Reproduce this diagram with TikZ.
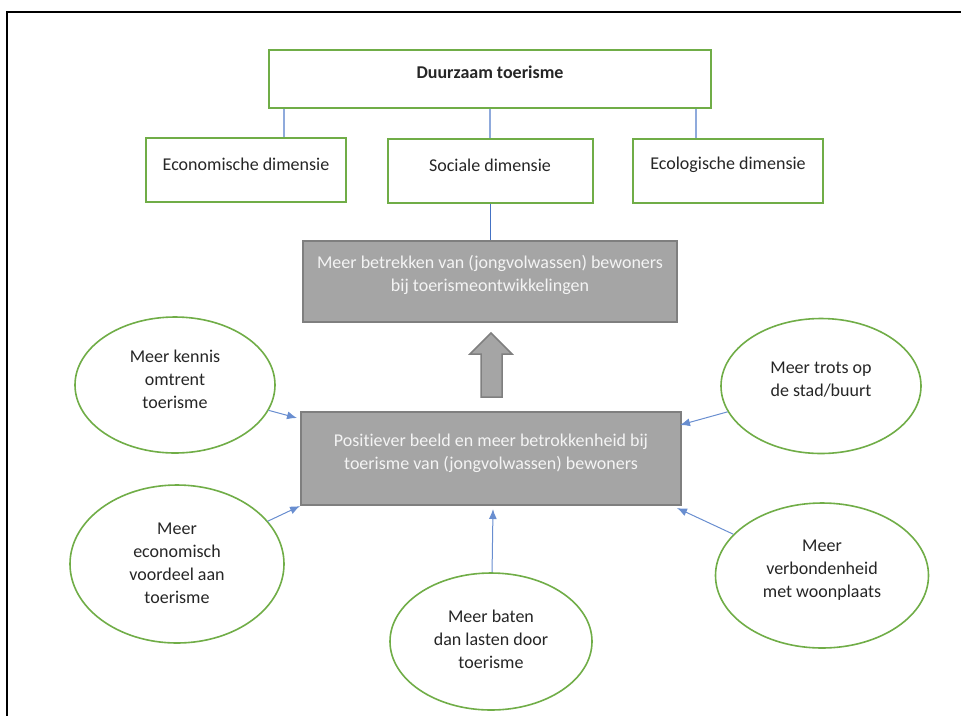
\documentclass[tikz,border=0pt]{standalone}
\usepackage{fontspec}
\setmainfont{Carlito}[Ligatures=NoCommon]
\usetikzlibrary{shapes,arrows,arrows.meta}
\usetikzlibrary{calc}
\usetikzlibrary{positioning}
\definecolor{boxgreen}{HTML}{70AD47}
\definecolor{arrowblue}{HTML}{4472C4}
\definecolor{lineblue}{HTML}{8FAADC}
\definecolor{boxgray}{HTML}{A5A5A5}
\definecolor{edgegray}{HTML}{7F7F7F}
\definecolor{softwhite}{HTML}{F4F4F4}
\tikzstyle{greenbox} = [draw=boxgreen, line width=2pt, fill=white, rectangle, inner sep=0pt]
\tikzstyle{graybox} = [draw=edgegray, line width=2pt, fill=boxgray, rectangle, inner sep=0pt]
\tikzstyle{bubble} = [draw=boxgreen, line width=1.6pt, fill=white, ellipse, inner sep=0pt]
\tikzstyle{darktext} = [text=black!85, align=center, font=\fontsize{18}{23}\selectfont]
\tikzstyle{lighttext} = [text=softwhite, align=center, font=\fontsize{18}{23}\selectfont]
\tikzstyle{dimline} = [draw=lineblue, line width=1.3pt]
\tikzstyle{cause} = [draw=arrowblue!80, line width=1pt, ->]

\begin{document}
\begin{tikzpicture}[x=1pt, y=-1pt, >={Latex[length=10pt,width=8pt]}]
  \useasboundingbox (0,0) rectangle (961,716);
  % frame
  \draw [black, line width=2.2pt] (961,12) -- (7,12) -- (7,716);
  % top level
  \node [greenbox, minimum width=442, minimum height=58,
         label={[darktext, yshift=7pt, font=\fontsize{18}{23}\selectfont\bfseries]center:Duurzaam toerisme}]
         (top) at (490,79) {};
  \node [greenbox, minimum width=200, minimum height=64,
         label={[darktext, yshift=6pt]center:Economische dimensie}] (eco) at (246,170) {};
  \node [greenbox, minimum width=205, minimum height=64,
         label={[darktext, yshift=6pt]center:Sociale dimensie}] (soc) at (490,171) {};
  \node [greenbox, minimum width=190, minimum height=64,
         label={[darktext, yshift=6pt]center:Ecologische dimensie}] (ecol) at (728,171) {};
  \draw [dimline] ([xshift=16pt]top.south west) -- ([xshift=16pt]top.south west |- eco.north);
  \draw [dimline] (top.south) -- (soc.north);
  \draw [dimline] ([xshift=-16pt]top.south east) -- ([xshift=-16pt]top.south east |- ecol.north);
  % gray boxes
  \node [graybox, minimum width=374, minimum height=81,
         label={[lighttext, yshift=7pt]center:{Meer betrekken van (jongvolwassen) bewoners\\bij toerismeontwikkelingen}}]
         (betrek) at (490,281.5) {};
  \draw [draw=arrowblue, line width=1pt] (soc.south) -- (betrek.north);
  \node [graybox, minimum width=380, minimum height=93,
         label={[lighttext, yshift=5.5pt]center:{Positiever beeld en meer betrokkenheid bij\\toerisme van (jongvolwassen) bewoners}}]
         (beeld) at (491,458.5) {};
  \draw [draw=edgegray, fill=boxgray, line width=1.5pt]
    (491,333) -- (512,354) -- (502,354) -- (502,397) -- (481,397) -- (481,354) -- (470,354) -- cycle;
  % factors
  \node [bubble, minimum width=200, minimum height=136,
         label={[darktext, yshift=5.5pt]center:{Meer kennis\\omtrent\\toerisme}}] (kennis) at (175,385) {};
  \node [bubble, minimum width=214, minimum height=158,
         label={[darktext, yshift=1pt]center:{Meer\\economisch\\voordeel aan\\toerisme}}] (voordeel) at (177,564) {};
  \node [bubble, minimum width=202, minimum height=137,
         label={[darktext, yshift=2pt]center:{Meer baten\\dan lasten door\\toerisme}}] (baten) at (491,641.5) {};
  \node [bubble, minimum width=200, minimum height=135,
         label={[darktext, yshift=6.5pt]center:{Meer trots op\\de stad/buurt}}] (trots) at (821,386) {};
  \node [bubble, minimum width=213, minimum height=145,
         label={[darktext, yshift=5.5pt]center:{Meer\\verbondenheid\\met woonplaats}}] (verbonden) at (822,575.5) {};
  \coordinate (tipa) at ($(beeld.north west)+(-3,7)$);
  \coordinate (tipb) at ($(beeld.north east)+(-2,14)$);
  \coordinate (tipc) at ($(beeld.south east)+(-5,2)$);
  \draw [cause] (kennis) -- (tipa);
  \draw [cause] (voordeel) -- (beeld.south west);
  \draw [cause] (baten) -- ([xshift=2pt, yshift=-3pt]beeld.south);
  \draw [cause] (trots) -- (tipb);
  \draw [cause] (verbonden) -- (tipc);
\end{tikzpicture}
\end{document}
